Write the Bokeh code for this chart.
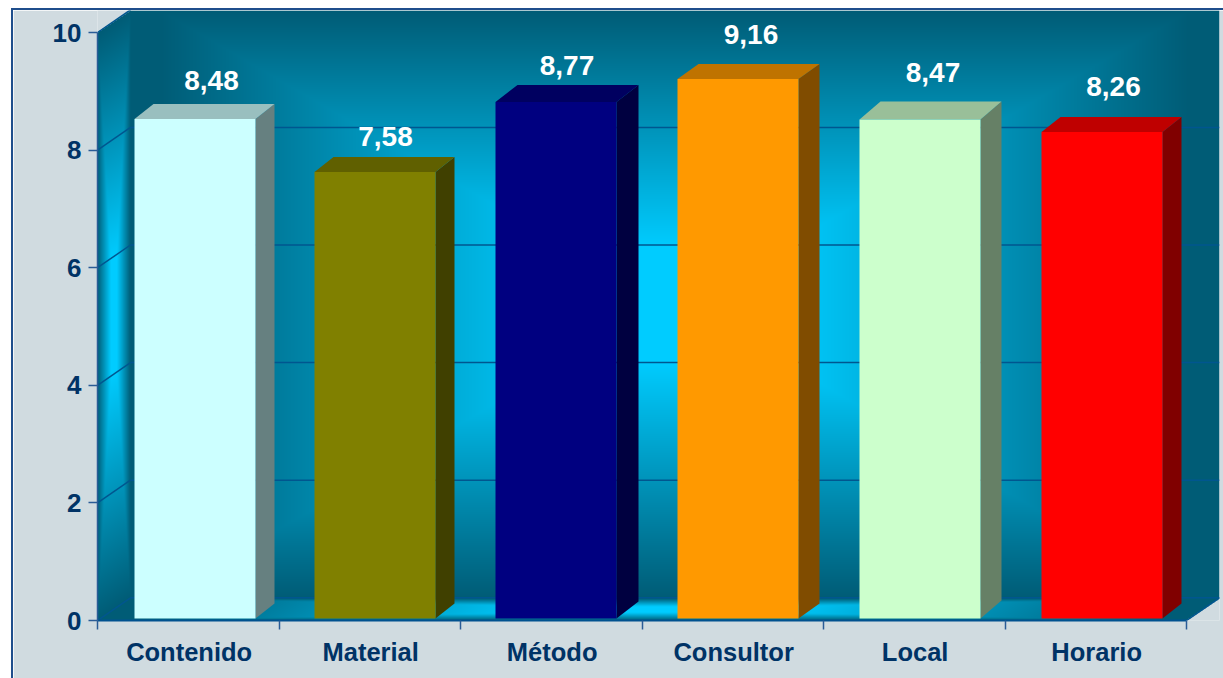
import numpy as np
from bokeh.core.properties import value
from bokeh.embed import file_html
from bokeh.models import FixedTicker, LinearAxis, Range1d
from bokeh.plotting import figure
from bokeh.resources import INLINE

# Survey scores per category
categories = ["Contenido", "Material", "Método", "Consultor", "Local", "Horario"]
scores = [8.48, 7.58, 8.77, 9.16, 8.47, 8.26]
score_labels = ["8,48", "7,58", "8,77", "9,16", "8,47", "8,26"]
bar_colors = ["#CCFFFF", "#808000", "#000080", "#FF9900", "#CCFFCC", "#FF0000"]
y_ticks = [0, 2, 4, 6, 8, 10]

# Page layout in pixels
W, H = 1210, 668
LEFT, RIGHT, TOP, BOTTOM = 84, 4, 0, 58
FRAME_W, FRAME_H = W - LEFT - RIGHT, H - TOP - BOTTOM
CAT_PX = 181.5
VAL_PX = 58.8
BAR_VAL_PX = 58.9
BAR_BASE_PX = 2
DEPTH_X, DEPTH_Y = 33, 22
BAR_PX = 121

# Small per-bar adjustments of the oblique projection, in pixels
bar_nudge = [6.75, 5.25, 4.75, 5.25, 5.75, 6.25]
side_dx = [19, 19, 22, 21, 21, 19]
top_dy = [15, 15, 17, 15, 18, 15]
label_dx = [16.5, 10.5, 11, 13, 13, 11.5]
label_dy = [38.5, 36, 36, 44, 47, 45]

DARK = np.array([0, 92, 118], dtype=float)
BRIGHT = np.array([0, 204, 255], dtype=float)


def mix(t):
    t = np.clip(t, 0, 1)[..., None]
    return BRIGHT * (1 - t) + DARK * t


def ramp(distance, plateau, length):
    """0 inside the flat centre of a path gradient, rising to 1 over length."""
    return np.clip((np.abs(distance) - plateau) / length, 0, 1)


def backdrop():
    """Gradient-shaded back wall, side wall and floor, as one RGBA image."""
    xs = np.arange(FRAME_W) + 0.5
    ys = np.arange(FRAME_H) + 0.5
    X, Y = np.meshgrid(xs, ys)
    wall_w = FRAME_W - DEPTH_X
    wall_h = FRAME_H - DEPTH_Y
    img = np.zeros((FRAME_H, FRAME_W, 4), dtype=np.uint8)

    # back wall: rectangular path gradient with a flat bright centre
    u = ramp(X - DEPTH_X - wall_w / 2, 109, 406)
    v = ramp(Y - wall_h / 2, 58, 236)
    on_wall = (X >= DEPTH_X) & (Y < wall_h)
    img[on_wall, :3] = mix(np.maximum(u, v))[on_wall]
    img[on_wall, 3] = 255

    # side wall: same gradient squeezed into the left parallelogram
    top_edge = DEPTH_Y * (1 - X / DEPTH_X)
    on_side = (X < DEPTH_X) & (Y >= top_edge) & (Y <= top_edge + wall_h)
    u = ramp(X - DEPTH_X / 2, 3, 13.5)
    v = ramp(Y - top_edge - wall_h / 2, 58, 236)
    img[on_side, :3] = mix(np.maximum(u, v))[on_side]
    img[on_side, 3] = 255

    # floor: same gradient squeezed into the bottom parallelogram
    below = Y >= wall_h
    shift = (FRAME_H - Y) / DEPTH_Y * DEPTH_X
    on_floor = below & (X >= shift) & (X <= shift + wall_w)
    u = ramp(X - shift - wall_w / 2, 109, 406)
    v = ramp(Y - wall_h - DEPTH_Y / 2, 3, 8)
    img[on_floor, :3] = mix(np.maximum(u, v))[on_floor]
    img[on_floor, 3] = 255

    return img[::-1].copy().view(dtype=np.uint32).reshape(FRAME_H, FRAME_W)


n = len(categories)
x_end = FRAME_W / CAT_PX
y_end = FRAME_H / VAL_PX

p = figure(
    width=W, height=H, x_range=Range1d(0, x_end), y_range=Range1d(0, y_end),
    output_backend="svg", toolbar_location=None, x_axis_location=None, y_axis_location=None,
    min_border_left=LEFT, min_border_right=RIGHT, min_border_top=TOP, min_border_bottom=BOTTOM,
    border_fill_color="#D0DBE0", background_fill_color="#D0DBE0", outline_line_color=None,
    margin=(10, 0, 0, 13),
)
p.styles = {"outline": "2px solid #1F4E8C"}
p.grid.visible = False

# Bars use their own scale: the baseline sits a little inside the floor
p.extra_y_ranges["bars"] = Range1d(-BAR_BASE_PX / BAR_VAL_PX, (FRAME_H - BAR_BASE_PX) / BAR_VAL_PX)

p.image_rgba(image=[backdrop()], x=0, y=0, dw=x_end, dh=y_end)

# Gridlines on the walls and floor edges
dx = DEPTH_X / CAT_PX
dy = 22.7 / VAL_PX
grid_color = "#00568F"
p.segment(x0=[dx] * 5, y0=[t + dy for t in y_ticks[:5]], x1=[x_end] * 5, y1=[t + dy for t in y_ticks[:5]],
          line_color=grid_color, line_width=1.5)
p.segment(x0=[0] * 6, y0=y_ticks, x1=[dx] * 6, y1=[t + dy for t in y_ticks],
          line_color=grid_color, line_width=1.5)
p.segment(x0=[n], y0=[0], x1=[x_end], y1=[dy], line_color=grid_color, line_width=1.5)

# Oblique bars: front face, lit top and shaded side
lefts = [i + 0.5 + (bar_nudge[i] - BAR_PX / 2) / CAT_PX for i in range(n)]
rights = [l + BAR_PX / CAT_PX for l in lefts]


def shade(color, factor):
    rgb = [int(color[k:k + 2], 16) for k in (1, 3, 5)]
    return "#%02X%02X%02X" % tuple(int(round(c * factor)) for c in rgb)


side_xs, side_ys, top_xs, top_ys = [], [], [], []
for i in range(n):
    ox = side_dx[i] / CAT_PX
    oy = top_dy[i] / BAR_VAL_PX
    side_xs.append([rights[i], rights[i] + ox, rights[i] + ox, rights[i]])
    side_ys.append([0, oy, scores[i] + oy, scores[i]])
    top_xs.append([lefts[i], lefts[i] + ox, rights[i] + ox, rights[i]])
    top_ys.append([scores[i], scores[i] + oy, scores[i] + oy, scores[i]])

p.patches(side_xs, side_ys, y_range_name="bars", line_color=None,
          fill_color=[shade(c, 0.5) for c in bar_colors])
p.patches(top_xs, top_ys, y_range_name="bars", line_color=None,
          fill_color=[shade(c, 0.75) for c in bar_colors])
p.quad(left=lefts, right=rights, bottom=[0] * n, top=scores, y_range_name="bars",
       fill_color=bar_colors, line_color=None)

# Value labels above each bar
p.text(x=[(l + r) / 2 for l, r in zip(lefts, rights)], y=scores, text=score_labels, y_range_name="bars",
       x_offset=label_dx, y_offset=[-d for d in label_dy], text_color="white",
       text_font=value("Liberation Sans"), text_font_style="bold", text_font_size="28px",
       text_align="center", text_baseline="middle")

# Axes
text_color = "#003366"
axis_color = "#2A5C96"
y_axis = LinearAxis(ticker=FixedTicker(ticks=y_ticks), bounds=(0, 10))
y_axis.axis_line_color = axis_color
y_axis.axis_line_width = 1.5
y_axis.major_tick_line_color = axis_color
y_axis.major_tick_line_width = 1.5
y_axis.major_tick_out = 9
y_axis.major_tick_in = 0
y_axis.minor_tick_line_color = None
y_axis.major_label_standoff = 7
y_axis.major_label_text_font = "Liberation Sans"
y_axis.major_label_text_font_style = "bold"
y_axis.major_label_text_font_size = "26px"
y_axis.major_label_text_color = text_color
p.add_layout(y_axis, "left")

label_positions = [i + 0.505 for i in range(n)]
x_axis = LinearAxis(
    ticker=FixedTicker(ticks=label_positions, minor_ticks=list(range(n + 1))),
    bounds=(0, n),
    major_label_overrides=dict(zip(label_positions, categories)),
)
x_axis.axis_line_color = "#00528F"
x_axis.axis_line_width = 2
x_axis.major_tick_line_color = None
x_axis.minor_tick_line_color = axis_color
x_axis.minor_tick_line_width = 1.5
x_axis.minor_tick_out = 9
x_axis.minor_tick_in = 0
x_axis.major_label_standoff = 8
x_axis.major_label_text_font = "Liberation Sans"
x_axis.major_label_text_font_style = "bold"
x_axis.major_label_text_font_size = "25.5px"
x_axis.major_label_text_color = text_color
p.add_layout(x_axis, "below")

open("out.html", "w").write(file_html(p, INLINE))
